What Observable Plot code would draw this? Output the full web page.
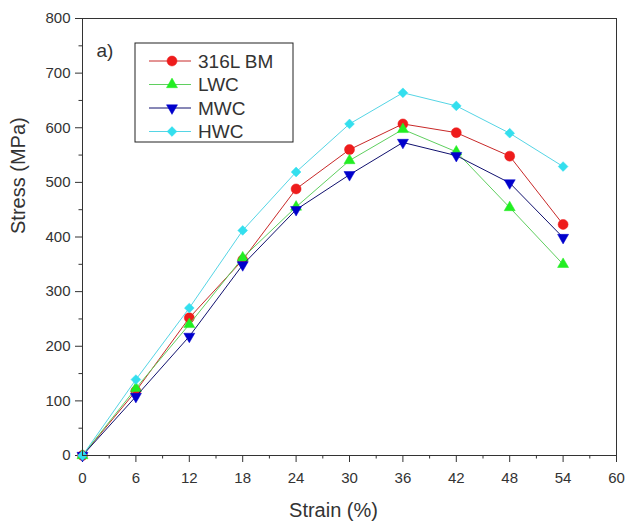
<!DOCTYPE html>
<html>
<head>
<meta charset="utf-8">
<script src="https://cdn.jsdelivr.net/npm/d3@7"></script>
<script src="https://cdn.jsdelivr.net/npm/@observablehq/plot@0.6"></script>
<style>
  html, body { margin: 0; padding: 0; background: white; }
  #chart svg { display: block; }
</style>
</head>
<body>
<div id="chart"></div>
<script>
const strain = [0, 6, 12, 18, 24, 30, 36, 42, 48, 54];
const bm  = [0, 118, 252, 358, 488, 560, 607, 591, 548, 423];
const lwc = [0, 123, 240, 362, 455, 540, 597, 556, 454, 350];
const mwc = [0, 108, 218, 349, 450, 514, 573, 549, 499, 399];
const hwc = [0, 139, 270, 412, 519, 607, 664, 640, 590, 529];

const seriesNames = ["316L BM", "LWC", "MWC", "HWC"];
const seriesValues = [bm, lwc, mwc, hwc];
const markerColors = ["#ee1c1c", "#22ee22", "#0000cc", "#33dfee"];
const lineColors = ["#c82828", "#5fcf5f", "#10106e", "#55d5e5"];
const symbols = ["circle", "triangle", "triangle", "diamond2"];
const rotations = [0, 0, 180, 0];
const radii = [5, 4.1, 4.1, 4.4];

const xTicks = [0, 6, 12, 18, 24, 30, 36, 42, 48, 54, 60];
const xMinor = [3, 9, 15, 21, 27, 33, 39, 45, 51, 57];
const yTicks = [0, 100, 200, 300, 400, 500, 600, 700, 800];
const yMinor = [50, 150, 250, 350, 450, 550, 650, 750];

const rows = seriesNames.map((name, i) =>
  strain.map((s, j) => ({series: name, idx: i, strain: s, stress: seriesValues[i][j]}))
);

const seriesMarks = rows.flatMap((data, i) => [
  Plot.line(data, {x: "strain", y: "stress", stroke: lineColors[i], strokeWidth: 1}),
  Plot.dot(data, {x: "strain", y: "stress", symbol: symbols[i], r: radii[i], rotate: rotations[i],
    fill: markerColors[i], stroke: markerColors[i], strokeWidth: 0.5})
]);

const chart = Plot.plot({
  width: 625,
  height: 524,
  marginLeft: 82,
  marginRight: 9,
  marginTop: 18,
  marginBottom: 69,
  x: {domain: [0, 60]},
  y: {domain: [0, 800]},
  style: {fontFamily: "'Liberation Sans', Arial, sans-serif", fontSize: "15px", color: "#333", background: "white"},
  marks: [
    Plot.axisX({ticks: xTicks, tickSize: 7, tickPadding: 10, label: null, fontSize: 15}),
    Plot.axisX({ticks: xMinor, tickSize: 3.5, tickFormat: () => "", label: null}),
    Plot.axisY({ticks: yTicks, tickSize: 7, tickPadding: 5, label: null, fontSize: 15}),
    Plot.axisY({ticks: yMinor, tickSize: 3.5, tickFormat: () => "", label: null}),
    ...seriesMarks,
    Plot.frame({stroke: "#333", strokeWidth: 1}),
    Plot.text(["Strain (%)"], {frameAnchor: "bottom", dy: 61, dx: -16, fontSize: 20, fill: "#333"}),
    Plot.text(["Stress (MPa)"], {frameAnchor: "left", rotate: -90, dx: -64, dy: -3, fontSize: 20, fill: "#333"}),
    Plot.text(["a)"], {frameAnchor: "top-left", dx: 14, dy: 25, textAnchor: "start", fontSize: 19, fill: "#333"})
  ]
});

// Legend box (drawn inside the plot area, positioned relative to the frame)
const svg = d3.select(chart);
const ox = 82, oy = 18;
const g = svg.append("g")
  .attr("font-family", "'Liberation Sans', Arial, sans-serif")
  .attr("text-anchor", "start");
g.append("rect")
  .attr("x", ox + 53).attr("y", oy + 25).attr("width", 158).attr("height", 99)
  .attr("fill", "white").attr("stroke", "#222").attr("stroke-width", 1);
seriesNames.forEach((name, i) => {
  const y = oy + 43 + i * 23.5;
  g.append("line").attr("x1", ox + 67).attr("x2", ox + 109).attr("y1", y).attr("y2", y)
    .attr("stroke", lineColors[i]).attr("stroke-width", 1);
  const symType = symbols[i] === "circle" ? d3.symbolCircle : symbols[i] === "triangle" ? d3.symbolTriangle : d3.symbolDiamond2;
  g.append("path")
    .attr("d", d3.symbol(symType, Math.PI * radii[i] * radii[i])())
    .attr("transform", `translate(${ox + 90},${y}) rotate(${rotations[i]})`)
    .attr("fill", markerColors[i]).attr("stroke", markerColors[i]).attr("stroke-width", 0.5);
  g.append("text").attr("x", ox + 116).attr("y", y).attr("dy", "0.35em")
    .attr("text-anchor", "start")
    .attr("font-size", 19).attr("fill", "#333").text(name);
});

document.getElementById("chart").appendChild(chart);
</script>
</body>
</html>
